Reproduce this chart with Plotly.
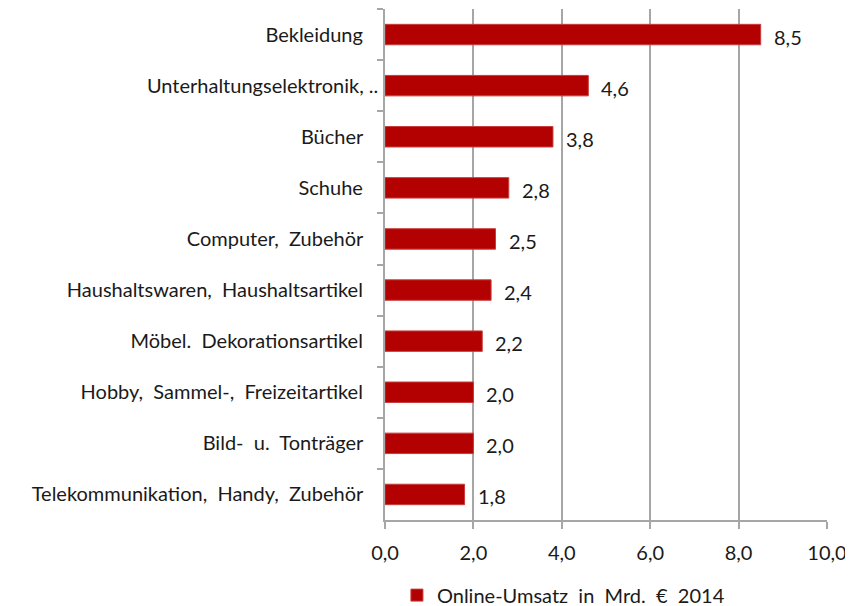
import plotly.graph_objects as go

categories = [
    "Bekleidung",
    "Unterhaltungselektronik, ..",
    "Bücher",
    "Schuhe",
    "Computer,  Zubehör",
    "Haushaltswaren,  Haushaltsartikel",
    "Möbel.  Dekorationsartikel",
    "Hobby,  Sammel-,  Freizeitartikel",
    "Bild-  u.  Tonträger",
    "Telekommunikation,  Handy,  Zubehör",
]
values = [8.5, 4.6, 3.8, 2.8, 2.5, 2.4, 2.2, 2.0, 2.0, 1.8]
series_name = "Online-Umsatz  in  Mrd.  €  2014"
x_ticks = [0, 2, 4, 6, 8, 10]
x_ticklabels = ["0,0", "2,0", "4,0", "6,0", "8,0", "10,0"]

NBSP = "\u00a0"

def nb(s):
    return s.replace(" ", NBSP)

# labels not ending with ".." carry a small trailing pad, as in the original
cat_labels = [nb(c) if c.endswith("..") else nb(c) + NBSP * 3 for c in categories]

RED = "#b30000"
GRID = "#a6a6a6"
FONT = "Lato"
TXT = "#1a1a1a"

# page body has an 8px margin; compensate so the chart lands where the reference is
W, H = 845, 598

fig = go.Figure()
fig.add_trace(go.Bar(
    x=values,
    y=cat_labels,
    orientation="h",
    name=nb(series_name),
    marker=dict(color=RED, line=dict(color="#c83c3c", width=1)),
    width=0.4,
    showlegend=True,
))

for v, c in zip(values, cat_labels):
    fig.add_annotation(
        x=v, y=c, xref="x", yref="y",
        text=f"{v:.1f}".replace(".", ","),
        showarrow=False, xanchor="left", xshift=11, yshift=-2,
        font=dict(family=FONT, size=20, color=TXT),
    )

fig.update_layout(
    width=W, height=H,
    margin=dict(l=377, r=26, t=1, b=86, autoexpand=False),
    paper_bgcolor="white",
    plot_bgcolor="white",
    font=dict(family=FONT, size=20, color=TXT),
    bargap=0.6,
    legend=dict(
        orientation="h", x=0.027, xanchor="left", y=-0.147, yanchor="middle",
        font=dict(family=FONT, size=20, color=TXT),
        itemwidth=30,
    ),
    xaxis=dict(
        range=[0, 10],
        tickvals=x_ticks,
        ticktext=x_ticklabels,
        showgrid=True, gridcolor=GRID, gridwidth=1.5,
        showline=True, linecolor=GRID, linewidth=1.5,
        ticks="outside", ticklen=7, tickcolor=GRID, tickwidth=1.5,
        zeroline=False,
        tickfont=dict(family=FONT, size=20, color=TXT),
        ticklabelstandoff=7,
        automargin=False,
        fixedrange=True,
    ),
    yaxis=dict(
        autorange="reversed",
        showline=True, linecolor=GRID, linewidth=1.5,
        ticks="outside", ticklen=6, tickcolor=GRID, tickwidth=1.5,
        tickson="boundaries",
        showgrid=False,
        ticklabelstandoff=1,
        tickfont=dict(family=FONT, size=20, color=TXT),
        automargin=False,
        fixedrange=True,
    ),
)

fig.write_html("out.html")
